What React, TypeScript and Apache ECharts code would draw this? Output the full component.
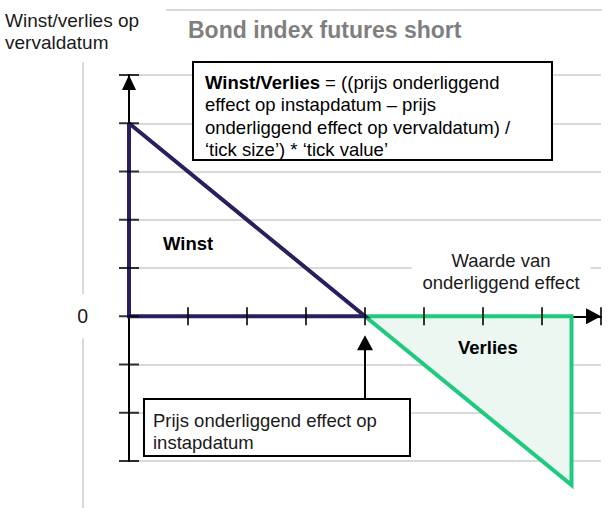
import React, { useEffect, useRef } from "react";
import * as echarts from "echarts";

const FONT = "Liberation Sans, Arial, sans-serif";

// axis ticks (data units)
const xTicks = [1, 2, 3, 4, 5, 6, 7, 8];
const yTicks = [-3, -2, -1, 0, 1, 2, 3, 4, 5];

// profit triangle (outline)
const winstLine = [
  [0, 4],
  [0, 0],
  [4, 0],
  [0, 4],
];
// loss triangle: diagonal (filled to zero) and outline
const verliesDiag = [
  [4, 0],
  [7.5, -3.5],
];
const verliesOutline = [
  [4, 0],
  [7.5, 0],
  [7.5, -3.5],
  [4, 0],
];

// arrow from the lower annotation box to the strike
const strikeArrow = [
  [4, -1.7],
  [4, -0.55],
];

const titleText = "Bond index futures short";
const yName = "Winst/verlies op\nvervaldatum";
const xName = "Waarde van\nonderliggend effect";
const formulaText =
  "{b|Winst/Verlies} = ((prijs onderliggend\neffect op instapdatum – prijs\nonderliggend effect op vervaldatum) /\n‘tick size’) * ‘tick value’";
const entryText = "Prijs onderliggend effect op\ninstapdatum";

export default function App() {
  const ref = useRef<HTMLDivElement>(null);

  useEffect(() => {
    if (!ref.current) return;
    const chart = echarts.init(ref.current, undefined, { renderer: "svg" });
    const purple = "#271f5e";
    const green = "#1ecb7e";
    const gridGrey = "#d9d9d9";

    chart.setOption({
      animation: false,
      title: {
        text: titleText,
        left: 188,
        top: 18,
        padding: 0,
        textStyle: {
          fontFamily: FONT,
          fontSize: 23,
          fontWeight: "bold",
          color: "#7f7f7f",
        },
      },
      grid: { left: 129, right: 10, top: 75, bottom: 51 },
      xAxis: {
        type: "value",
        min: 0,
        max: 8,
        interval: 1,
        axisLine: {
          onZero: true,
          lineStyle: { color: "#000", width: 2 },
          symbol: ["none", "triangle"],
          symbolSize: [16, 15],
          symbolOffset: [0, -7.5],
        },
        axisTick: { show: false },
        axisLabel: { show: false },
        splitLine: { show: false },
      },
      yAxis: {
        type: "value",
        min: -3,
        max: 5,
        interval: 1,
        axisLine: {
          lineStyle: { color: "#000", width: 2 },
          symbol: ["none", "triangle"],
          symbolSize: [14, 15],
          symbolOffset: [0, -7.5],
        },
        axisTick: { show: false },
        axisLabel: {
          margin: 35,
          formatter: (v: number) => (v === 0 ? "{z|0}" : ""),
          rich: {
            z: {
              fontFamily: FONT,
              fontSize: 19.5,
              color: "#1a1a1a",
              backgroundColor: "#fff",
              padding: [12, 6],
            },
          },
        },
        splitLine: { lineStyle: { color: gridGrey, width: 2 } },
      },
      series: [
        {
          type: "line",
          data: verliesDiag,
          symbol: "none",
          clip: false,
          lineStyle: { width: 0, color: green },
          areaStyle: { color: "#ecf7f2", opacity: 1 },
          silent: true,
          z: 1,
        },
        {
          type: "line",
          data: verliesOutline,
          symbol: "none",
          clip: false,
          lineStyle: { width: 4, color: green, join: "miter" },
          silent: true,
          z: 3,
        },
        {
          type: "line",
          data: winstLine,
          symbol: "none",
          clip: false,
          lineStyle: { width: 4, color: purple, join: "miter" },
          silent: true,
          z: 3,
          markLine: {
            silent: true,
            symbol: ["none", "triangle"],
            symbolSize: [16, 15],
            label: { show: false },
            lineStyle: { color: "#000", width: 2, type: "solid" },
            data: [
              [
                { coord: strikeArrow[0] },
                { coord: strikeArrow[1] },
              ],
            ],
          },
        },
        {
          type: "scatter",
          data: xTicks.map((x) => [x, 0]),
          symbol: "rect",
          symbolSize: [2, 18],
          itemStyle: { color: "#000" },
          clip: false,
          silent: true,
          z: 10,
        },
        {
          type: "scatter",
          data: yTicks.map((y) => [0, y]),
          symbol: "rect",
          symbolSize: [20, 2],
          itemStyle: { color: "#000" },
          clip: false,
          silent: true,
          z: 10,
        },
      ],
      graphic: [
        {
          type: "line",
          z: -5,
          shape: { x1: 83, y1: 62, x2: 83, y2: 508 },
          style: { stroke: gridGrey, lineWidth: 2 },
          silent: true,
        },
        {
          type: "line",
          z: -5,
          shape: { x1: 166, y1: 10, x2: 602, y2: 10 },
          style: { stroke: gridGrey, lineWidth: 2 },
          silent: true,
        },
        {
          type: "text",
          x: 5,
          y: 9,
          style: {
            text: yName,
            fontFamily: FONT,
            fontSize: 19,
            lineHeight: 22,
            fill: "#1a1a1a",
            verticalAlign: "top",
          },
        },
        {
          type: "rect",
          z: 50,
          shape: { x: 193, y: 62, width: 359, height: 98 },
          style: { fill: "#fff", stroke: "#000", lineWidth: 2 },
        },
        {
          type: "text",
          z: 51,
          x: 205,
          y: 71,
          style: {
            text: formulaText,
            fontFamily: FONT,
            fontSize: 18.5,
            lineHeight: 22.5,
            fill: "#000",
            verticalAlign: "top",
            rich: {
              b: {
                fontFamily: FONT,
                fontSize: 18.5,
                lineHeight: 22.5,
                fontWeight: "bold",
                fill: "#000",
              },
            },
          },
        },
        {
          type: "text",
          z: 51,
          x: 163,
          y: 243,
          style: {
            text: "Winst",
            fontFamily: FONT,
            fontSize: 18.5,
            fontWeight: "bold",
            fill: "#000",
            verticalAlign: "middle",
          },
        },
        {
          type: "text",
          z: 51,
          x: 458,
          y: 347,
          style: {
            text: "Verlies",
            fontFamily: FONT,
            fontSize: 18.5,
            fontWeight: "bold",
            fill: "#000",
            verticalAlign: "middle",
          },
        },
        {
          type: "text",
          z: 51,
          x: 501,
          y: 249,
          style: {
            text: xName,
            fontFamily: FONT,
            fontSize: 18.5,
            lineHeight: 22,
            fill: "#1a1a1a",
            align: "center",
            verticalAlign: "top",
            backgroundColor: "#fff",
            padding: [0, 11],
          },
        },
        {
          type: "rect",
          z: 50,
          shape: { x: 144, y: 399, width: 266, height: 57 },
          style: { fill: "#fff", stroke: "#000", lineWidth: 2 },
        },
        {
          type: "text",
          z: 51,
          x: 153,
          y: 409,
          style: {
            text: entryText,
            fontFamily: FONT,
            fontSize: 18.5,
            lineHeight: 22,
            fill: "#1a1a1a",
            verticalAlign: "top",
          },
        },
      ],
    });
    return () => chart.dispose();
  }, []);

  return (
    <div
      ref={ref}
      style={{ position: "absolute", left: 0, top: 0, width: 611, height: 512 }}
    />
  );
}
